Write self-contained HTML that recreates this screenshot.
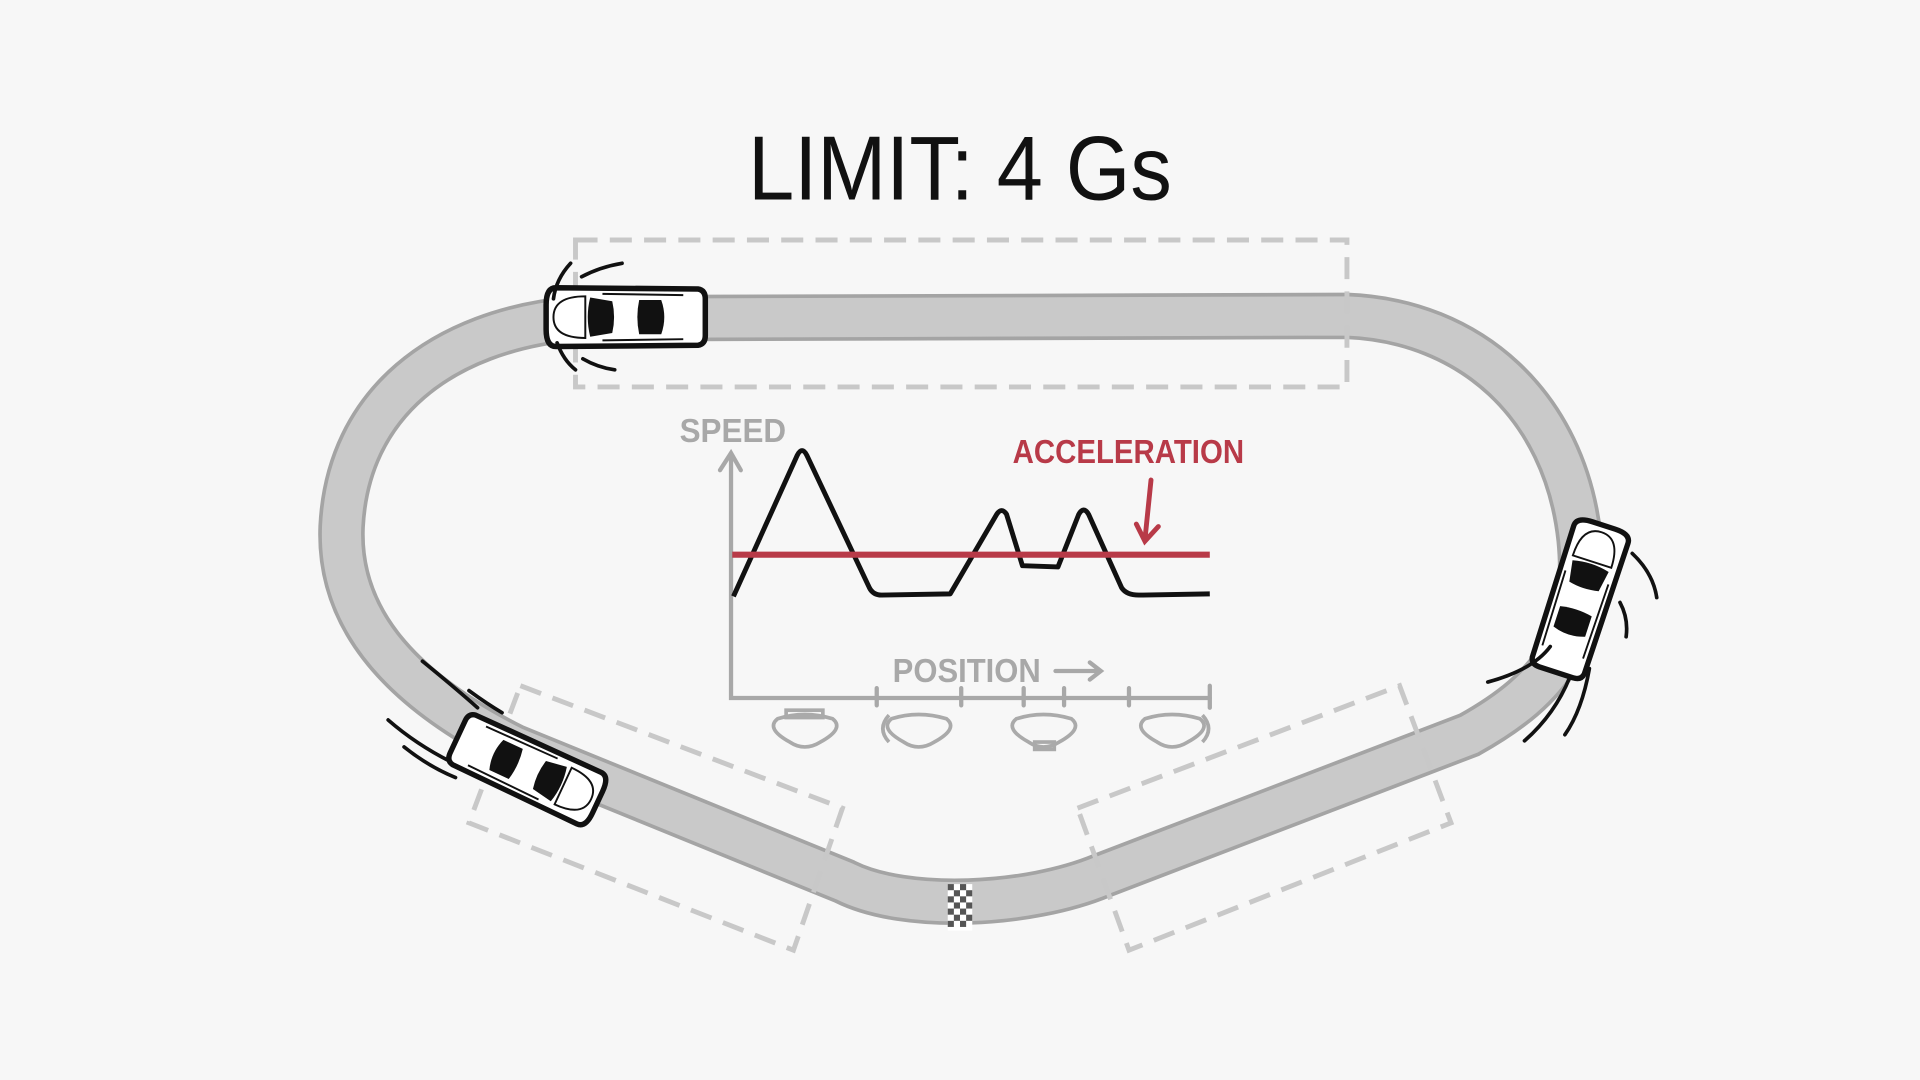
<!DOCTYPE html>
<html><head><meta charset="utf-8"><style>
html,body{margin:0;padding:0;background:#f7f7f7;}
svg{display:block;}
</style></head><body>
<svg width="1920" height="1080" viewBox="0 0 1568 882" xmlns="http://www.w3.org/2000/svg">
<defs>
<g id="car">
  <path d="M-58,-24 L58,-23 Q64,-22 64,-15 L64,15 Q64,22 58,23 L-58,24 Q-66,24 -66,10 L-66,-10 Q-66,-24 -58,-24 Z" fill="#fff" stroke="#111" stroke-width="4.5"/>
  <path d="M-34,-17 Q-60,-17 -60,0 Q-60,17 -34,17 Z" fill="none" stroke="#111" stroke-width="1.6"/>
  <path d="M-30,-16 L-12,-13 Q-9,0 -12,13 L-30,16 Q-34,0 -30,-16 Z" fill="#111"/>
  <path d="M10,-14 L28,-14 Q33,0 28,14 L10,14 Q7,0 10,-14 Z" fill="#111"/>
  <path d="M-20,-19 L46,-18 M-20,19 L46,18" stroke="#111" stroke-width="1.6"/>
</g>
</defs>
<rect width="1568" height="882" fill="#f7f7f7"/>
<text x="784" y="163" font-family="Liberation Sans, sans-serif" font-size="74" text-anchor="middle" fill="#111" textLength="346" lengthAdjust="spacingAndGlyphs">LIMIT: 4 Gs</text>

<path id="trk" d="M470 260 L1100 258 C1200 262 1278 330 1290 440 C1298 520 1268 562 1200 600 L900 715 C840 740 740 745 690 720 L420 610 C320 560 276 500 279 430 C284 330 360 270 470 260 Z" fill="none" stroke="#a4a4a4" stroke-width="38"/>
<path d="M470 260 L1100 258 C1200 262 1278 330 1290 440 C1298 520 1268 562 1200 600 L900 715 C840 740 740 745 690 720 L420 610 C320 560 276 500 279 430 C284 330 360 270 470 260 Z" fill="none" stroke="#c9c9c9" stroke-width="32"/>
<g transform="translate(774,722)">
<rect width="20" height="38" fill="#fff"/>
<g fill="#555">
<rect x="0" y="0" width="5" height="5"/><rect x="10" y="0" width="5" height="5"/><rect x="5" y="5" width="5" height="5"/><rect x="15" y="5" width="5" height="5"/>
<rect x="0" y="10" width="5" height="5"/><rect x="10" y="10" width="5" height="5"/><rect x="5" y="15" width="5" height="5"/><rect x="15" y="15" width="5" height="5"/>
<rect x="0" y="20" width="5" height="5"/><rect x="10" y="20" width="5" height="5"/><rect x="5" y="25" width="5" height="5"/><rect x="15" y="25" width="5" height="5"/>
<rect x="0" y="30" width="5" height="5"/><rect x="10" y="30" width="5" height="5"/>
</g></g>

<g fill="none" stroke="#c8c8c8" stroke-width="4" stroke-dasharray="18 10">
<path d="M470 196 L1100 196 L1100 316 L470 316 Z"/>
<path d="M425 560 L688 660 L648 776 L383 672 Z"/>
<path d="M880 660 L1143 560 L1185 672 L922 776 Z"/>
</g>

<g stroke="#a8a8a8" stroke-width="3.5" fill="none" stroke-linecap="round">
<path d="M597 372 L597 570 L988 570"/>
<path d="M588 384 L597 370 L605 384"/>
<path d="M716 562 V576 M785 562 V576 M836 562 V576 M869 562 V576 M922 562 V576 M988 560 V578"/>
<path d="M862 548 L898 548 M890 541 L899 548 L890 555"/>
</g>
<text x="555" y="361" font-family="Liberation Sans, sans-serif" font-weight="bold" font-size="27" fill="#a8a8a8" textLength="87" lengthAdjust="spacingAndGlyphs">SPEED</text>
<text x="729" y="557" font-family="Liberation Sans, sans-serif" font-weight="bold" font-size="27" fill="#a8a8a8" textLength="121" lengthAdjust="spacingAndGlyphs">POSITION</text>
<path d="M599 487 L651 372 Q655 364 659 372 L710 480 Q713 486 720 486 L776 485 L814 420 Q818 414 822 420 L835 462 L864 463 L881 420 Q885 413 889 420 L916 480 Q920 486 930 486 L988 485" fill="none" stroke="#111" stroke-width="4" stroke-linejoin="round"/>
<path d="M598 453 L988 453" stroke="#b83a48" stroke-width="5"/>
<text x="827" y="378" font-family="Liberation Sans, sans-serif" font-weight="bold" font-size="27" fill="#b83a48" textLength="189" lengthAdjust="spacingAndGlyphs">ACCELERATION</text>
<path d="M940 392 L935 441 M928 428 L935 442 L946 430" fill="none" stroke="#b83a48" stroke-width="4" stroke-linecap="round"/>

<g fill="none" stroke="#aaa" stroke-width="3">
<path d="M635 587 Q657 580 680 587 Q690 595 670 606 Q657 614 645 606 Q625 595 635 587 Z"/>
<path d="M728 587 Q750 580 773 587 Q783 595 763 606 Q750 614 738 606 Q718 595 728 587 Z"/>
<path d="M830 587 Q852 580 875 587 Q885 595 865 606 Q852 614 840 606 Q820 595 830 587 Z"/>
<path d="M935 587 Q957 580 980 587 Q990 595 970 606 Q957 614 945 606 Q925 595 935 587 Z"/>
<rect x="642" y="580" width="30" height="6"/>
<path d="M726 584 Q716 595 726 606"/>
<rect x="845" y="606" width="16" height="6"/>
<path d="M982 584 Q992 595 982 606"/>
</g>

<use href="#car" transform="translate(512,259)"/>
<use href="#car" transform="translate(1290,490) rotate(108) scale(0.97)"/>
<use href="#car" transform="translate(430,628) rotate(205) scale(0.97)"/>

<g fill="none" stroke="#111" stroke-width="3" stroke-linecap="round">
<path d="M466 215 Q454 228 452 244"/><path d="M475 226 Q490 218 508 215"/>
<path d="M455 280 Q460 294 470 302"/><path d="M476 293 Q488 300 502 302"/>
<path d="M1333 452 Q1350 468 1353 488"/><path d="M1323 492 Q1330 505 1328 520"/>
<path d="M1266 528 Q1252 547 1215 557"/><path d="M1282 553 Q1270 583 1245 605"/><path d="M1298 546 Q1292 580 1278 600"/>
<path d="M345 540 Q372 562 390 578"/><path d="M383 564 Q398 575 410 582"/>
<path d="M317 588 Q340 608 368 622"/><path d="M330 610 Q350 626 372 635"/>
</g>
</svg>
</body></html>
